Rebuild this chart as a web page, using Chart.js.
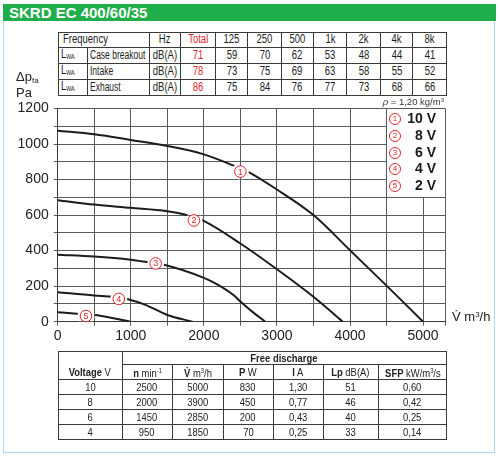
<!DOCTYPE html>
<html>
<head>
<meta charset="utf-8">
<script src="https://cdn.jsdelivr.net/npm/chart.js@4.4.1/dist/chart.umd.min.js"></script>
<style>
  html, body { margin: 0; padding: 0; background: #fff; }
  body { width: 500px; height: 459px; position: relative; overflow: hidden; font-family: 'Liberation Sans', Arial, sans-serif; color: #222; }
  #card { position: absolute; left: 3px; top: 20px; width: 490px; height: 431px; border: 1.5px solid #a9dcee; }
  #title { position: absolute; left: 3px; top: 4px; width: 493px; height: 17px; background: #1fae4b; color: #fff; font: bold 15px 'Liberation Sans', Arial, sans-serif; line-height: 17px; padding-left: 6px; box-sizing: border-box; }
  #chart { position: absolute; left: 0; top: 0; }
  table { position: absolute; border-collapse: collapse; table-layout: fixed; color: #222; }
  td { border: 1px solid #3a3a3a; padding: 0; text-align: center; white-space: nowrap; overflow: hidden; }
  td .c { display: inline-block; margin: 0 -30px; }
  td.left { text-align: left; padding-left: 2px; }
  td.left .c { margin: 0 -60px 0 0; transform-origin: left center; }
  #sound { left: 57.5px; top: 32px; width: 388.5px; font-size: 12.5px; }
  #sound tr { height: 14.6px; }
  #sound td { line-height: 13px; }
  #sound .c { transform: scaleX(0.76); }
  #sound td.path .c { transform: scaleX(0.68); }
  #sound td.red { color: #e3262b; }
  #sound sub { font-size: 7px; vertical-align: -1px; }
  #perf { left: 57.5px; top: 350.5px; width: 388.5px; font-size: 11.5px; }
  #perf td { line-height: 12px; }
  #perf .c { transform: scaleX(0.82); }
  #perf sup { font-size: 7px; vertical-align: 4px; }
  .ann { position: absolute; white-space: nowrap; color: #222; }
  #ylab { left: 16px; top: 71px; font-size: 13px; line-height: 12px; }
  #ylab sub { font-size: 8px; vertical-align: -2px; }
  #xlab { left: 452px; top: 309px; font-size: 13px; }
  #xlab sup { font-size: 8px; vertical-align: 4px; }
  #rho { right: 56px; top: 96px; font-size: 9.5px; color: #333; }
  #rho sup { font-size: 6px; vertical-align: 3px; }
  #legend { position: absolute; left: 388px; top: 110px; width: 48px; }
  .lrow { height: 16.8px; line-height: 16.8px; position: relative; font: bold 14px 'Liberation Sans', Arial, sans-serif; color: #1a1a1a; text-align: right; }
  .circ { position: absolute; left: 1px; top: 3px; width: 10px; height: 10px; border: 1px solid #e3262b; border-radius: 50%; color: #e3262b; font: 8px 'Liberation Sans', Arial, sans-serif; line-height: 10px; text-align: center; }
</style>
</head>
<body>
<div id="card"></div>
<div id="title">SKRD EC 400/60/35</div>
<table id="sound"></table>
<canvas id="chart" width="500" height="459"></canvas>
<div id="ylab" class="ann">Δp<sub>fa</sub><br>Pa</div>
<div id="xlab" class="ann">V̇ m<sup>3</sup>/h</div>
<div id="rho" class="ann"><i>ρ</i> = 1,20 kg/m<sup>3</sup></div>
<div id="legend"></div>
<table id="perf"></table>
<script>
// sound power table
const freqBands = ["Total", "125", "250", "500", "1k", "2k", "4k", "8k"];
const soundPaths = ["Case breakout", "Intake", "Exhaust"];
const caseBreakoutDb = [71, 59, 70, 62, 53, 48, 44, 41];
const intakeDb = [78, 73, 75, 69, 63, 58, 55, 52];
const exhaustDb = [86, 75, 84, 76, 77, 73, 68, 66];

// fan curves, airflow m3/h vs pressure Pa
const voltageSteps = ["10 V", "8 V", "6 V", "4 V", "2 V"];
const flow10V = [0, 500, 1000, 1500, 2000, 2400, 2600, 3000, 3500, 4000, 4500, 5000];
const dp10V = [1075, 1055, 1023, 989, 942, 880, 845, 744, 600, 402, 203, 0];
const flow8V = [0, 500, 1000, 1500, 1740, 1990, 2500, 3000, 3500, 3900];
const dp8V = [684, 659, 641, 622, 603, 569, 440, 295, 140, 0];
const flow6V = [0, 500, 1000, 1220, 1440, 2000, 2170, 2400, 2500, 2670, 2840];
const dp6V = [377, 367, 349, 336, 322, 247, 213, 152, 114, 54, 0];
const flow4V = [0, 500, 760, 960, 1200, 1500, 1845];
const dp4V = [166, 147, 140, 126, 95, 38, 0];
const flow2V = [0, 300, 490, 580, 710, 1000];
const dp2V = [53, 44, 38, 34, 24, 0];

// circled curve numbers
const markerFlow = [2500, 1864, 1341, 836, 387];
const markerDp = [845, 570, 328, 128, 32];

// grid steps and labelled ticks
const flowGrid = [0, 500, 1000, 1500, 2000, 2500, 3000, 3500, 4000, 4500, 5000, 5300];
const pressureGrid = [0, 100, 200, 300, 400, 500, 600, 700, 800, 900, 1000, 1100, 1200];
const flowTicks = [0, 1000, 2000, 3000, 4000, 5000];
const pressureTicks = [0, 200, 400, 600, 800, 1000, 1200];

// free discharge table
const perfVoltage = ["10", "8", "6", "4"];
const perfSpeed = ["2500", "2000", "1450", "950"];
const perfFlow = ["5000", "3900", "2850", "1850"];
const perfPower = ["830", "450", "200", "70"];
const perfCurrent = ["1,30", "0,77", "0,43", "0,25"];
const perfLp = ["51", "46", "40", "33"];
const perfSfp = ["0,60", "0,42", "0,25", "0,14"];

const RED = "#e3262b";
const GRID = "#5a5a5a";
const LEGEND_FROM_FLOW = 4500;
const LEGEND_FROM_DP = 700;

function cell(content, cls) {
  return `<td${cls ? ` class="${cls}"` : ""}><span class="c">${content}</span></td>`;
}

function buildSoundTable() {
  const widths = [29.6, 61.7, 31, 35, 32.7, 33.3, 32.3, 33.4, 33.3, 32.7, 33.3];
  let html = "<colgroup>" + widths.map((w) => `<col style="width:${w}px">`).join("") + "</colgroup>";
  html += `<tr><td colspan="2" class="left" style="padding-left:4px"><span class="c">Frequency</span></td>${cell("Hz")}`;
  html += freqBands.map((b, i) => cell(b, i === 0 ? "red" : "")).join("") + "</tr>";
  [caseBreakoutDb, intakeDb, exhaustDb].forEach((row, r) => {
    html += "<tr>" + cell("L<sub>WA</sub>", "left") + cell(soundPaths[r], "left path") + cell("dB(A)");
    html += row.map((v, i) => cell(v, i === 0 ? "red" : "")).join("") + "</tr>";
  });
  document.getElementById("sound").innerHTML = html;
}

function buildPerfTable() {
  const widths = [64, 50, 51, 50, 50, 55.6, 67.7];
  const heights = [13.3, 15.3, 14.7, 15.3, 15, 15];
  let html = "<colgroup>" + widths.map((w) => `<col style="width:${w}px">`).join("") + "</colgroup>";
  html += `<tr style="height:${heights[0]}px"><td rowspan="2" style="vertical-align:bottom;padding-bottom:1px"><span class="c"><b>Voltage</b> V</span></td><td colspan="6"><span class="c"><b>Free discharge</b></span></td></tr>`;
  const heads = ["<b>n</b> min<sup>-1</sup>", "<b>V̇</b> m<sup>3</sup>/h", "<b>P</b> W", "<b>I</b> A", "<b>Lp</b> dB(A)", "<b>SFP</b> kW/m<sup>3</sup>/s"];
  html += `<tr style="height:${heights[1]}px">` + heads.map((h) => cell(h)).join("") + "</tr>";
  perfVoltage.forEach((v, i) => {
    const cells = [v, perfSpeed[i], perfFlow[i], perfPower[i], perfCurrent[i], perfLp[i], perfSfp[i]];
    html += `<tr style="height:${heights[i + 2]}px">` + cells.map((c) => cell(c)).join("") + "</tr>";
  });
  document.getElementById("perf").innerHTML = html;
}

function buildLegend() {
  document.getElementById("legend").innerHTML = voltageSteps
    .map((v, i) => `<div class="lrow"><span class="circ">${i + 1}</span>${v.replace(" ", "&nbsp;")}</div>`)
    .join("");
}

function curveDataset(flow, dp) {
  return {
    data: flow.map((f, i) => ({ x: f, y: dp[i] })),
    borderColor: "#1c1c1c",
    borderWidth: 2,
    pointRadius: 0,
    cubicInterpolationMode: "monotone",
    fill: false,
  };
}

function align(px) {
  return Math.round(px - 0.5) + 0.5;
}

// white corner behind the legend, circled numbers that break the curves
const curveMarkersPlugin = {
  id: "curveMarkers",
  beforeDatasetsDraw(chart) {
    const { ctx, chartArea, scales } = chart;
    const left = align(scales.x.getPixelForValue(LEGEND_FROM_FLOW)) + 0.5;
    const top = align(chartArea.top) + 0.5;
    const bottom = align(scales.y.getPixelForValue(LEGEND_FROM_DP)) - 0.5;
    const right = align(chartArea.right) - 0.5;
    ctx.save();
    ctx.fillStyle = "#fff";
    ctx.fillRect(left, top, right - left, bottom - top);
    ctx.restore();
  },
  afterDatasetsDraw(chart) {
    const { ctx, chartArea, scales } = chart;
    markerFlow.forEach((f, i) => {
      const px = scales.x.getPixelForValue(f);
      const py = scales.y.getPixelForValue(markerDp[i]);
      // cut the curve, keep the grid
      ctx.save();
      ctx.beginPath();
      ctx.arc(px, py, 8.5, 0, Math.PI * 2);
      ctx.clip();
      ctx.fillStyle = "#fff";
      ctx.fillRect(px - 9, py - 9, 18, 18);
      ctx.strokeStyle = GRID;
      ctx.lineWidth = 1;
      ctx.beginPath();
      scales.x.ticks.forEach((t) => {
        const gx = align(scales.x.getPixelForValue(t.value));
        ctx.moveTo(gx, chartArea.top);
        ctx.lineTo(gx, chartArea.bottom);
      });
      scales.y.ticks.forEach((t) => {
        const gy = align(scales.y.getPixelForValue(t.value));
        ctx.moveTo(chartArea.left, gy);
        ctx.lineTo(chartArea.right, gy);
      });
      ctx.stroke();
      ctx.restore();

      ctx.save();
      ctx.beginPath();
      ctx.arc(px, py, 5.8, 0, Math.PI * 2);
      ctx.fillStyle = "#fff";
      ctx.fill();
      ctx.strokeStyle = RED;
      ctx.lineWidth = 1;
      ctx.stroke();
      ctx.fillStyle = RED;
      ctx.font = "9px 'Liberation Sans', Arial, sans-serif";
      ctx.textAlign = "center";
      ctx.textBaseline = "middle";
      ctx.fillText(String(i + 1), px, py + 0.5);
      ctx.restore();
    });
  },
};

buildSoundTable();
buildPerfTable();
buildLegend();

Chart.defaults.font.family = "'Liberation Sans', Arial, sans-serif";
Chart.defaults.color = "#222";

new Chart(document.getElementById("chart"), {
  type: "line",
  data: {
    datasets: [
      curveDataset(flow10V, dp10V),
      curveDataset(flow8V, dp8V),
      curveDataset(flow6V, dp6V),
      curveDataset(flow4V, dp4V),
      curveDataset(flow2V, dp2V),
    ],
  },
  options: {
    responsive: false,
    animation: false,
    layout: { padding: { left: 0, top: 108.5, right: 55, bottom: 115.3 } },
    scales: {
      x: {
        type: "linear",
        min: 0,
        max: 5300,
        afterBuildTicks(scale) {
          scale.ticks = flowGrid.map((v) => ({ value: v }));
        },
        afterFit(scale) {
          scale.height = 22;
        },
        ticks: {
          autoSkip: false,
          maxRotation: 0,
          padding: 2,
          font: { size: 14 },
          color: "#222",
          callback: (v) => (flowTicks.includes(v) ? String(v) : ""),
        },
        grid: { color: GRID, lineWidth: 1, tickLength: 4 },
        border: { color: "#3a3a3a", width: 1 },
      },
      y: {
        min: 0,
        max: 1200,
        afterBuildTicks(scale) {
          scale.ticks = pressureGrid.map((v) => ({ value: v }));
        },
        afterFit(scale) {
          scale.width = 57.7;
        },
        ticks: {
          autoSkip: false,
          padding: 5,
          font: { size: 14 },
          color: "#222",
          callback: (v) => (pressureTicks.includes(v) ? String(v) : ""),
        },
        grid: { color: GRID, lineWidth: 1, tickLength: 4 },
        border: { color: "#3a3a3a", width: 1 },
      },
    },
    plugins: {
      legend: { display: false },
      tooltip: { enabled: false },
    },
  },
  plugins: [curveMarkersPlugin],
});
</script>
</body>
</html>
